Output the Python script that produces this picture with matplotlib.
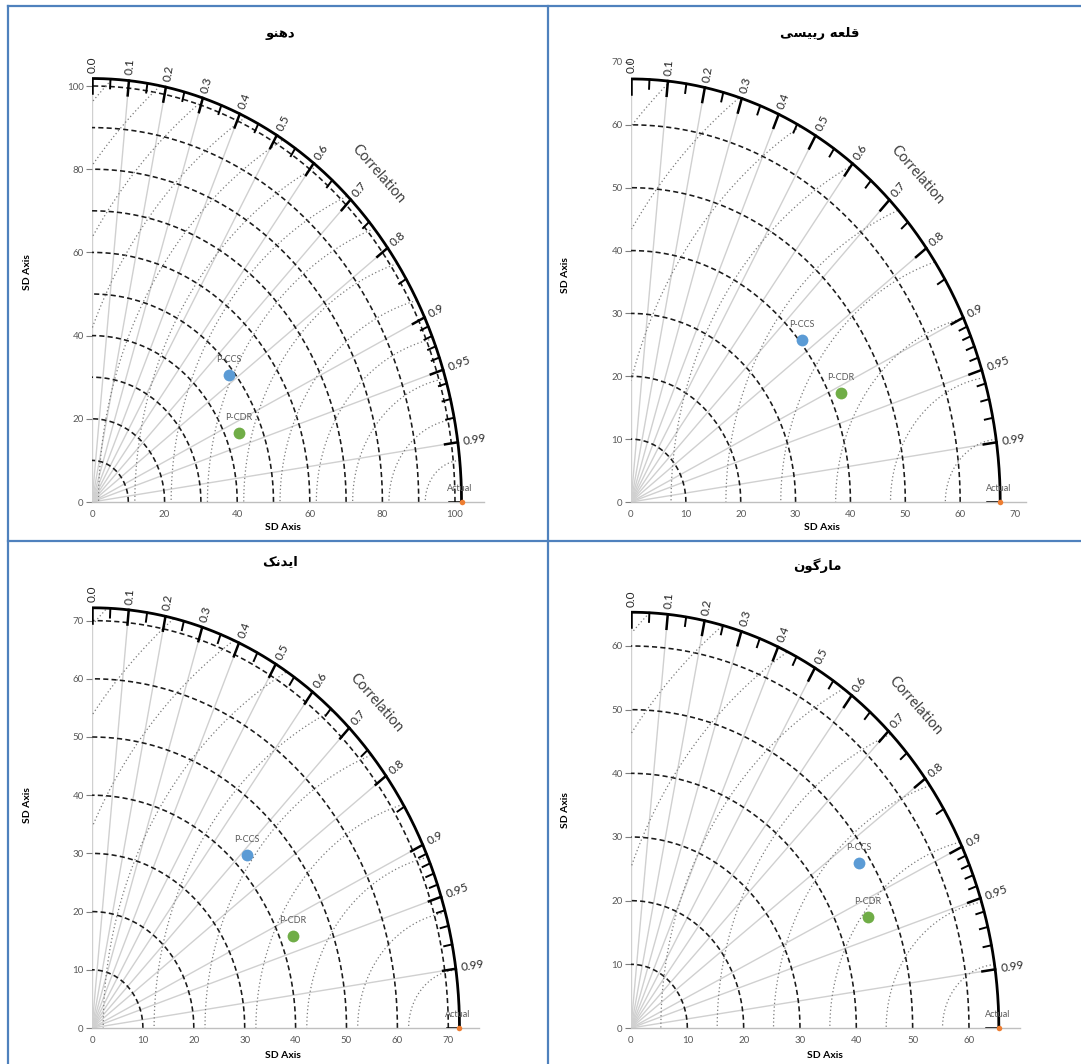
import numpy as np
import matplotlib.pyplot as plt
from matplotlib.lines import Line2D

# ---- data ----
stations = ['دهنو', 'قلعه رییسی', 'ایدنک', 'مارگون']
actual_sd = [101.8, 67.3, 72.2, 65.3]
ccs_x = [37.7, 31.2, 30.5, 40.5]
ccs_y = [30.5, 25.8, 29.8, 25.9]
cdr_x = [40.5, 38.3, 39.4, 42.0]
cdr_y = [16.6, 17.3, 15.8, 17.4]
series_names = ['P-CCS', 'P-CDR']
series_colors = ['#5B9BD5', '#70AD47']
corr_major = [0.0, 0.1, 0.2, 0.3, 0.4, 0.5, 0.6, 0.7, 0.8, 0.9, 0.95, 0.99]
corr_minor = [0.05, 0.15, 0.25, 0.35, 0.45, 0.55, 0.65, 0.75, 0.85,
              0.91, 0.92, 0.93, 0.94, 0.96, 0.97, 0.98]
tick_max = [100, 70, 70, 60]
tick_step = [20, 10, 10, 10]

# panel placement in pixels: origin x, origin y, px per unit x, px per unit y, axis limit
frames = [(92, 502, 3.63, 4.16, 108),
          (631, 502, 5.486, 6.286, 72),
          (92, 1028, 5.09, 5.82, 76),
          (631, 1028, 5.633, 6.367, 69)]
title_pos = [(280, 33), (820, 34), (280, 562), (817, 566)]
ylabel_pos = [(27, 272), (565, 275), (27, 805), (565, 810)]
xlabel_pos = [(283, 527), (822, 527), (283, 1055), (825, 1055)]

W, H = 1081, 1064
LATIN = 'Lato'

# contextual Arabic forms: isolated, final, initial, medial
FORMS = {
    'ا': ('\ufe8d', '\ufe8e', None, None),
    'د': ('\ufea9', '\ufeaa', None, None),
    'ر': ('\ufead', '\ufeae', None, None),
    'و': ('\ufeed', '\ufeee', None, None),
    'ه': ('\ufee9', '\ufeea', '\ufeeb', '\ufeec'),
    'ن': ('\ufee5', '\ufee6', '\ufee7', '\ufee8'),
    'ق': ('\ufed5', '\ufed6', '\ufed7', '\ufed8'),
    'ل': ('\ufedd', '\ufede', '\ufedf', '\ufee0'),
    'ع': ('\ufec9', '\ufeca', '\ufecb', '\ufecc'),
    'س': ('\ufeb1', '\ufeb2', '\ufeb3', '\ufeb4'),
    'م': ('\ufee1', '\ufee2', '\ufee3', '\ufee4'),
    'ی': ('\ufeef', '\ufef0', '\ufef3', '\ufef4'),
    'ک': ('\ufb8e', '\ufb8f', '\ufb90', '\ufb91'),
    'گ': ('\ufb92', '\ufb93', '\ufb94', '\ufb95'),
}


def shape_rtl(text):
    out = []
    for i, ch in enumerate(text):
        if ch not in FORMS:
            out.append(ch)
            continue
        prev = text[i - 1] if i > 0 else ''
        nxt = text[i + 1] if i + 1 < len(text) else ''
        join_prev = prev in FORMS and FORMS[prev][2] is not None
        join_next = FORMS[ch][2] is not None and nxt in FORMS
        iso, fin, ini, med = FORMS[ch]
        if join_prev and join_next:
            out.append(med)
        elif join_prev:
            out.append(fin)
        elif join_next:
            out.append(ini)
        else:
            out.append(iso)
    return ''.join(reversed(out))


fig = plt.figure(figsize=(W / 100, H / 100), dpi=100)

for i in range(4):
    x0, y0, sx, sy, lim = frames[i]
    ref = actual_sd[i]
    ax = fig.add_axes([x0 / W, 1 - y0 / H, lim * sx / W, lim * sy / H])
    ax.set_xlim(0, lim)
    ax.set_ylim(0, lim)
    ax.patch.set_alpha(0)
    for s in ['top', 'right', 'left']:
        ax.spines[s].set_visible(False)
    ax.spines['bottom'].set_color('#bfbfbf')
    ax.spines['bottom'].set_linewidth(1)

    ticks = np.arange(0, tick_max[i] + 1, tick_step[i])
    ax.set_xticks(ticks)
    ax.set_yticks(ticks)
    ax.tick_params(axis='x', length=0, pad=6, labelsize=7, labelcolor='#595959')
    ax.tick_params(axis='y', length=4, width=0.8, color='#7f7f7f', pad=2,
                   labelsize=7, labelcolor='#595959')
    for lab in ax.get_xticklabels() + ax.get_yticklabels():
        lab.set_family(LATIN)

    # radial correlation lines (gray)
    for c in corr_major:
        th = np.arccos(c)
        ax.plot([0, ref * np.cos(th)], [0, ref * np.sin(th)], color='#d0d0d0', lw=1, zorder=1)

    # SD arcs around origin (dashed)
    t = np.linspace(0, np.pi / 2, 300)
    for r in np.arange(10, ref, 10):
        ax.plot(r * np.cos(t), r * np.sin(t), color='#1a1a1a', lw=1.15,
                ls=(0, (3.2, 2)), zorder=2)

    # RMS arcs around the reference point (dotted), clipped to the quarter disk
    t2 = np.linspace(0, np.pi, 800)
    for r in np.arange(10, 150, 10):
        xs = ref + r * np.cos(t2)
        ys = r * np.sin(t2)
        bad = (np.hypot(xs, ys) > ref) | (xs < 0)
        xs = np.where(bad, np.nan, xs)
        ax.plot(xs, ys, color='#7a7a7a', lw=0.9, ls=(0, (1, 2)), zorder=2)

    # outer arc
    ax.plot(ref * np.cos(t), ref * np.sin(t), color='black', lw=2, zorder=3,
            solid_capstyle='butt')

    # arc ticks
    for c in corr_major + [1.0]:
        th = np.arccos(c)
        ax.plot([0.965 * ref * np.cos(th), ref * np.cos(th)],
                [0.965 * ref * np.sin(th), ref * np.sin(th)], color='black', lw=1.8, zorder=3)
    for c in corr_minor:
        th = np.arccos(c)
        ax.plot([0.978 * ref * np.cos(th), ref * np.cos(th)],
                [0.978 * ref * np.sin(th), ref * np.sin(th)], color='black', lw=1.4, zorder=3)

    # correlation labels
    for c in corr_major:
        th = np.arccos(c)
        vx, vy = sx * np.cos(th), sy * np.sin(th)
        phi = np.degrees(np.arctan2(vy, vx))
        n = np.hypot(vx, vy)
        off = 5.5 * 0.72
        lbl = f'{c:.2f}' if c in (0.95, 0.99) else f'{c:.1f}'
        ax.annotate(lbl, xy=(ref * np.cos(th), ref * np.sin(th)),
                    xytext=(off * vx / n, off * vy / n), textcoords='offset points',
                    rotation=phi, rotation_mode='anchor', ha='left', va='center',
                    fontsize=8.5, color='#262626', family=LATIN, annotation_clip=False)

    th = np.radians(45)
    rot = np.degrees(np.arctan2(-sy * np.cos(th), sx * np.sin(th)))
    ax.text(1.095 * ref * np.cos(th), 1.095 * ref * np.sin(th), 'Correlation',
            rotation=rot, ha='center', va='center', rotation_mode='anchor',
            fontsize=10.5, color='#404040', family=LATIN)

    # model points
    for name, col, px, py in zip(series_names, series_colors,
                                 [ccs_x[i], cdr_x[i]], [ccs_y[i], cdr_y[i]]):
        ax.plot(px, py, 'o', color=col, ms=8.5, mec='none', zorder=5)
        ax.annotate(name, xy=(px, py), xytext=(0, 11), textcoords='offset points',
                    ha='center', va='center', fontsize=6.5, color='#595959', family=LATIN)

    ax.plot(ref, 0, 'o', color='#ED7D31', ms=4, mec='none', zorder=6, clip_on=False)
    ax.annotate('Actual', xy=(ref, 0), xytext=(-1, 9.5), textcoords='offset points',
                ha='center', va='center', fontsize=6.5, color='#595959', family=LATIN,
                annotation_clip=False)

    tx, ty = title_pos[i]
    fig.text(tx / W, 1 - ty / H, shape_rtl(stations[i]), ha='center', va='center',
             fontsize=9.5, fontweight='bold', family='DejaVu Sans')
    lx, ly = xlabel_pos[i]
    fig.text(lx / W, 1 - ly / H, 'SD Axis', ha='center', va='center',
             fontsize=7.5, fontweight='bold', family=LATIN)
    lx, ly = ylabel_pos[i]
    fig.text(lx / W, 1 - ly / H, 'SD Axis', ha='center', va='center', rotation=90,
             fontsize=7.5, fontweight='bold', family=LATIN)

# blue panel frames
border = '#4F81BD'
for xs, ys in [([8, 8], [6, H]), ([548, 548], [6, H]), ([8, W], [6, 6]), ([8, W], [541, 541])]:
    fig.add_artist(Line2D([v / W for v in xs], [1 - v / H for v in ys],
                          color=border, lw=1.6, transform=fig.transFigure))

fig.savefig('out.png', dpi=100)
